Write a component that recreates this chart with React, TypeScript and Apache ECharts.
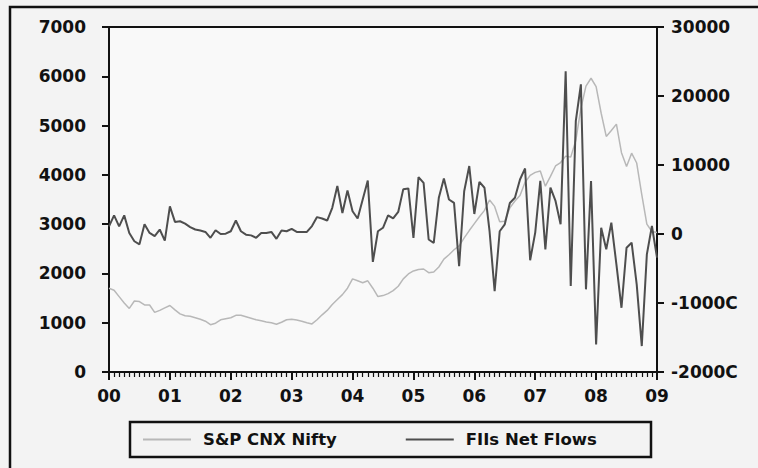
import React, { useEffect, useRef } from 'react';
import * as echarts from 'echarts';

// Monthly observations, Jan 2000 .. Jan 2009 (109 months)
const yearLabels = ['00', '01', '02', '03', '04', '05', '06', '07', '08', '09'];

const niftyValues = [
  1700, 1660, 1530, 1400, 1290, 1440, 1430, 1360, 1360, 1210, 1250, 1300,
  1350, 1260, 1180, 1140, 1130, 1100, 1070, 1030, 960, 990, 1060, 1080,
  1100, 1150, 1150, 1120, 1090, 1060, 1040, 1015, 1000, 970, 1010, 1060,
  1070, 1055, 1030, 1000, 975, 1060, 1160, 1250, 1370, 1470, 1570, 1700,
  1890, 1850, 1810, 1850, 1700, 1530, 1550, 1590, 1650, 1740, 1890, 1990,
  2050, 2080, 2090, 2015, 2030, 2130, 2290, 2380, 2480, 2560, 2720, 2870,
  3010, 3150, 3280, 3490, 3360, 3050, 3060, 3330, 3470, 3580, 3850, 3990,
  4050, 4080, 3770, 3970, 4180, 4250, 4380, 4360, 4700, 5350, 5800, 5960,
  5790, 5250, 4780, 4900, 5030, 4450, 4170, 4440, 4240, 3600, 3000, 2850,
  2830,
];

const fiiValues = [
  1100, 2700, 1100, 2700, 150, -1050, -1500, 1400, 150, -300, 650, -950,
  4000, 1750, 1850, 1500, 1000, 650, 500, 300, -550, 550, 0, 50,
  400, 1950, 400, -100, -200, -550, 150, 150, 300, -700, 500, 400,
  750, 300, 300, 300, 1150, 2450, 2250, 1950, 3800, 6950, 3050, 6300,
  3300, 2250, 5000, 7750, -4050, 400, 900, 2700, 2250, 3200, 6500, 6600,
  -550, 8250, 7400, -800, -1300, 5250, 8050, 5000, 4500, -4650, 6200, 9850,
  2900, 7550, 6700, 400, -8300, 400, 1400, 4500, 5250, 7900, 9500, -3800,
  200, 7690, -2220, 6710, 4790, 1400, 23600, -7540, 16400, 21700, -8020, 7690,
  -16000, 910, -2220, 1640, -4400, -10690, -1980, -1260, -7300, -16240, -2950, 1160,
  -3430,
];

const rightTickLabels = ['-2000C', '-1000C', '0', '10000', '20000', '30000'];

const seriesNames = ['S&P CNX Nifty', 'FIIs Net Flows'];
const seriesColors = ['#b8b8b8', '#4e4e4e'];

export default function App() {
  const ref = useRef<HTMLDivElement>(null);

  useEffect(() => {
    if (!ref.current) return;
    const chart = echarts.init(ref.current, null, { renderer: 'svg' });
    const font = '"DejaVu Sans", "Noto Sans", sans-serif';
    const ink = '#111111';
    const labelStyle = { color: ink, fontWeight: 'bold' as const, fontSize: 17, fontFamily: font };

    chart.setOption({
      animation: false,
      backgroundColor: '#f3f3f3',
      textStyle: { fontFamily: font },
      grid: {
        left: 109,
        right: 101,
        top: 27,
        bottom: 96,
        show: true,
        borderColor: ink,
        borderWidth: 2,
        backgroundColor: '#f9f9f9',
      },
      xAxis: {
        type: 'value',
        min: 0,
        max: 108,
        interval: 12,
        axisLine: { show: true, onZero: false, lineStyle: { color: ink, width: 2 } },
        axisTick: { show: true, length: 8, lineStyle: { color: ink, width: 2 } },
        minorTick: { show: true, splitNumber: 12, length: 5, lineStyle: { color: ink, width: 1.2 } },
        splitLine: { show: false },
        minorSplitLine: { show: false },
        axisLabel: {
          ...labelStyle,
          margin: 15,
          formatter: (v: number) => yearLabels[Math.round(v / 12)] ?? '',
        },
      },
      yAxis: [
        {
          type: 'value',
          position: 'left',
          min: 0,
          max: 7000,
          interval: 1000,
          axisLine: { show: true, lineStyle: { color: ink, width: 2 } },
          axisTick: { show: true, length: 7, lineStyle: { color: ink, width: 2 } },
          splitLine: { show: false },
          axisLabel: { ...labelStyle, margin: 23, formatter: (v: number) => String(v) },
        },
        {
          type: 'value',
          position: 'right',
          min: -20000,
          max: 30000,
          interval: 10000,
          axisLine: { show: true, lineStyle: { color: ink, width: 2 } },
          axisTick: { show: true, length: 7, lineStyle: { color: ink, width: 2 } },
          splitLine: { show: false },
          axisLabel: {
            ...labelStyle,
            margin: 14,
            formatter: (v: number) => rightTickLabels[Math.round((v + 20000) / 10000)] ?? '',
          },
        },
      ],
      legend: {
        left: 143,
        top: 431,
        padding: 0,
        itemWidth: 48,
        itemHeight: 2,
        itemGap: 69,
        data: seriesNames.map((name) => ({ name, icon: 'rect' })),
        textStyle: {
          color: ink,
          fontWeight: 'bold',
          fontSize: 16.5,
          fontFamily: font,
          padding: [0, 0, 0, 7],
        },
      },
      graphic: [
        {
          type: 'rect',
          shape: { x: 10, y: 7, width: 820, height: 520 },
          style: { fill: 'none', stroke: ink, lineWidth: 2.5 },
          silent: true,
        },
        {
          type: 'rect',
          shape: { x: 130, y: 422, width: 521, height: 35 },
          style: { fill: 'none', stroke: ink, lineWidth: 2.5 },
          silent: true,
        },
      ],
      series: [
        {
          name: seriesNames[0],
          type: 'line',
          yAxisIndex: 0,
          data: niftyValues.map((v, i) => [i, v]),
          symbol: 'none',
          lineStyle: { color: seriesColors[0], width: 1.5 },
          itemStyle: { color: seriesColors[0] },
          z: 2,
        },
        {
          name: seriesNames[1],
          type: 'line',
          yAxisIndex: 1,
          data: fiiValues.map((v, i) => [i, v]),
          symbol: 'none',
          lineStyle: { color: seriesColors[1], width: 2 },
          itemStyle: { color: seriesColors[1] },
          z: 3,
        },
      ],
    });

    return () => chart.dispose();
  }, []);

  return (
    <div
      ref={ref}
      style={{ position: 'fixed', left: 0, top: 0, width: 758, height: 468 }}
    />
  );
}
